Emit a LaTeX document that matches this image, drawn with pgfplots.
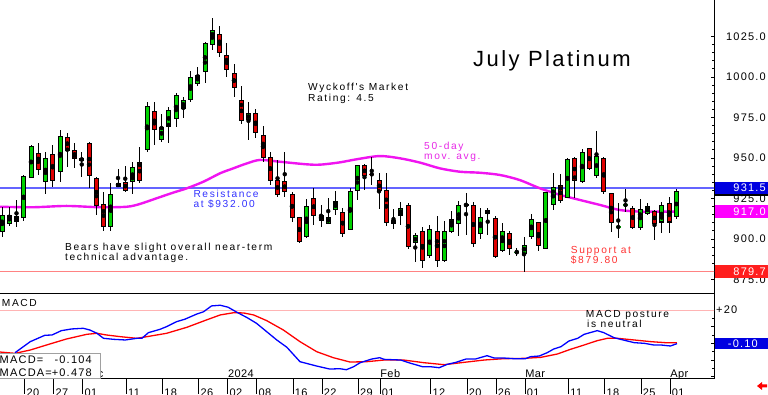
\documentclass[border=0pt]{standalone}
\usepackage{pgfplots}
\pgfplotsset{compat=1.18}
\usepackage{pgfplotstable}
\usepackage{fontspec}
\setmainfont{Liberation Sans}
\newfontfamily\annofam[LetterSpace=16, Ligatures=TeXOff]{Liberation Sans}
\newfontfamily\tickfam[LetterSpace=11]{Liberation Sans}
\newfontfamily\datefam[LetterSpace=4]{Liberation Sans}
\newfontfamily\titlefam[LetterSpace=11]{Liberation Sans}
\newcommand\annof{\annofam\fontsize{10.2}{12}\selectfont}
\newcommand\tickf{\tickfam\fontsize{11}{12}\selectfont}
\newcommand\datef{\datefam\fontsize{11}{12}\selectfont}
\definecolor{cgreen}{RGB}{0,210,0}
\definecolor{cred}{RGB}{222,0,0}
\definecolor{mavg}{RGB}{240,20,240}
\definecolor{mavgtxt}{RGB}{230,40,230}
\definecolor{reslinec}{RGB}{100,100,255}
\definecolor{restxt}{RGB}{50,50,255}
\definecolor{suplinec}{RGB}{255,130,130}
\definecolor{suptxt}{RGB}{255,50,50}
\definecolor{boxblue}{RGB}{0,0,225}
\definecolor{boxmag}{RGB}{255,0,255}
\definecolor{boxred}{RGB}{255,30,30}
\definecolor{macdblue}{RGB}{0,0,255}
\definecolor{macdred}{RGB}{255,0,0}
\definecolor{lvl}{RGB}{255,180,180}
\definecolor{boxgray}{RGB}{160,160,160}

\pgfplotstableread{
i o h l c
0 904.5 920.0 901.4 914.2
1 909.7 919.5 908.0 914.8
2 910.7 924.1 907.6 913.8
3 913.4 939.5 911.3 938.5
4 937.9 958.0 937.4 957.0
6 935.4 953.9 927.8 949.8
8 941.6 967.3 935.4 963.2
11 948.4 953.9 938.1 949.8
15 908.0 934.8 905.1 927.2
16 932.3 943.0 932.3 934.4
18 935.4 947.3 927.8 944.0
20 955.3 984.8 954.0 981.7
22 961.5 977.0 960.1 968.9
23 969.3 981.7 959.1 979.6
24 974.5 990.3 968.9 988.5
25 980.7 987.4 974.5 985.4
26 986.2 1003.7 984.8 999.6
27 996.1 1006.4 994.4 1001.2
28 1003.3 1021.8 996.1 1020.8
29 1019.8 1036.2 1016.7 1029.0
34 973.5 984.8 961.1 977.6
42 901.4 924.7 900.4 920.0
45 909.7 925.1 909.3 913.4
46 918.3 929.6 914.8 923.0
48 906.0 931.3 905.6 929.2
49 930.2 945.7 924.1 945.1
54 909.7 918.5 906.0 911.7
55 914.8 922.6 908.6 918.9
57 897.7 903.5 886.0 901.9
59 890.1 908.6 888.1 905.6
61 887.0 911.3 886.0 904.5
62 904.9 917.5 903.5 912.1
63 909.7 923.5 901.9 920.4
64 920.4 928.2 902.5 921.6
66 903.1 918.9 899.8 913.4
67 915.8 918.9 902.5 917.5
69 893.2 909.7 892.2 904.5
72 891.2 901.4 879.8 896.3
73 901.4 915.4 899.8 912.3
75 894.2 929.2 893.6 928.6
76 921.0 940.5 917.9 931.9
78 925.9 950.0 925.3 948.8
80 935.2 955.6 934.6 953.7
82 939.5 966.7 937.7 951.2
88 907.4 924.7 905.6 918.5
89 916.0 922.2 914.8 919.8
91 910.5 922.8 903.7 920.4
93 913.6 930.9 912.3 929.6
}\bull

\pgfplotstableread{
i o h l c
5 952.5 959.5 939.5 943.0
7 952.3 958.0 931.9 936.4
9 962.8 965.6 944.7 954.9
10 954.5 959.1 943.6 949.8
12 959.1 960.1 931.7 939.5
13 937.4 938.1 914.8 920.4
14 921.0 929.2 905.1 908.0
17 935.0 945.3 929.2 930.2
19 947.3 957.0 934.4 936.4
21 978.6 984.8 958.0 967.3
30 1026.3 1031.5 1012.1 1015.0
31 1013.0 1020.8 1000.2 1004.7
32 1001.9 1007.8 987.9 993.6
33 985.2 994.4 971.0 973.0
35 977.6 980.0 962.1 965.8
36 963.6 969.8 947.7 950.4
37 950.4 953.9 933.3 936.4
38 936.4 948.8 926.1 927.2
39 935.4 953.9 926.1 929.2
40 927.2 929.2 910.7 913.4
41 913.4 913.6 897.7 898.4
43 925.1 931.3 908.6 914.8
44 914.8 921.0 907.6 911.3
47 916.3 918.9 901.0 903.1
50 945.1 946.1 930.2 939.1
52 935.8 940.5 918.3 929.8
53 930.2 940.5 908.0 910.1
56 920.4 922.0 893.6 895.3
58 904.5 907.6 881.9 886.6
60 904.5 914.2 882.9 887.0
65 920.4 923.0 895.3 897.3
68 912.8 914.2 888.1 889.5
70 903.1 905.1 890.1 894.2
74 910.1 910.7 892.8 895.7
77 933.3 940.1 922.4 923.7
79 950.0 950.6 925.3 936.4
81 955.6 956.2 942.6 943.8
83 950.0 950.6 927.8 929.6
84 928.2 928.6 904.5 910.1
87 919.1 920.4 906.2 907.4
90 916.7 917.9 899.4 909.3
92 922.2 925.9 903.7 910.5
}\bear

\pgfplotstableread{
i y h l
71 891.8 894.5 889.5
85 907.4 922.2 900.6
86 921.0 930.9 916.7
}\gdoji

\pgfplotstableread{
i y h l
51 939.9 950.8 933.3
}\rdoji

\pgfplotsset{
  wick/.style={only marks, mark=none, forget plot,
    error bars/.cd, y dir=both, y explicit, error mark=none,
    error bar style={line width=1pt, black}},
  bodyline/.style={only marks, mark=none, forget plot,
    error bars/.cd, y dir=both, y explicit, error mark=none,
    error bar style={line width=5pt, black}},
  bodyfill/.style={only marks, mark=none, forget plot,
    error bars/.cd, y dir=both, y explicit, error mark=none,
    error bar style={line width=3pt, #1}},
}

\begin{document}
\begin{tikzpicture}
\useasboundingbox (0pt,0pt) rectangle (768pt,395pt);
\clip (0pt,0pt) rectangle (768pt,395pt);

% ---------------- price panel ----------------
\begin{axis}[
  at={(0pt,101pt)}, anchor=south west, scale only axis,
  width=714pt, height=294pt,
  xmin=-0.2759, xmax=98.207, ymin=866.05, ymax=1047.53,
  axis x line=none, axis y line*=right,
  axis line style={black, line width=1pt},
  xtick=\empty,
  ytick={875,900,...,1025}, minor y tick num=4,
  ytick align=inside, major tick length=3pt, minor tick length=2pt,
  tick style={black, line width=0.8pt},
  yticklabel style={anchor=east, inner sep=0pt, xshift=52pt, font=\tickf},
  /pgf/number format/fixed, /pgf/number format/fixed zerofill,
  /pgf/number format/precision=1, /pgf/number format/1000 sep={},
  /pgf/number format/assume math mode=true,
]
\addplot[reslinec, line width=1.1pt, forget plot] coordinates {(-1,931.5) (99,931.5)};
\addplot[suplinec, line width=1pt, forget plot] coordinates {(-1,879.8) (99,879.8)};
\addplot[mavg, line width=2.4pt, smooth, forget plot] coordinates {
(-0.3,919.9) (4.3,919.6) (8.9,920.4) (13.5,919.6) (17.2,919.9) (19,921.6)
(21.3,925.1) (23.6,928.6) (25.5,931.3) (27.8,935.4) (30.1,940.6) (31.9,943.6)
(33.8,946.7) (35.6,948.8) (38.3,947.7) (42,946.1) (43.9,945.9) (46.6,947.3)
(48.9,949.2) (52.1,951.2) (54.9,949.8) (57.7,947.1) (60.4,943.6) (63.2,941.5)
(65.9,940.9) (68.7,939.5) (71.4,936.4) (74.2,931.3) (77,927.2) (79.7,924.1)
(82.5,921) (85.2,917.9) (88,916.9) (90.8,916.9) (93.1,916.9)};
% wicks
\addplot[wick] table[x=i, y expr={(\thisrow{h}+\thisrow{l})/2}, y error expr={(\thisrow{h}-\thisrow{l})/2}] {\bull};
\addplot[wick] table[x=i, y expr={(\thisrow{h}+\thisrow{l})/2}, y error expr={(\thisrow{h}-\thisrow{l})/2}] {\bear};
\addplot[wick] table[x=i, y expr={(\thisrow{h}+\thisrow{l})/2}, y error expr={(\thisrow{h}-\thisrow{l})/2}] {\gdoji};
\addplot[wick] table[x=i, y expr={(\thisrow{h}+\thisrow{l})/2}, y error expr={(\thisrow{h}-\thisrow{l})/2}] {\rdoji};
% bodies
\addplot[bodyline] table[x=i, y expr={(\thisrow{o}+\thisrow{c})/2}, y error expr={abs(\thisrow{c}-\thisrow{o})/2+0.31}] {\bull};
\addplot[bodyline] table[x=i, y expr={(\thisrow{o}+\thisrow{c})/2}, y error expr={abs(\thisrow{c}-\thisrow{o})/2+0.31}] {\bear};
\addplot[bodyfill=cgreen] table[x=i, y expr={(\thisrow{o}+\thisrow{c})/2}, y error expr={max(abs(\thisrow{c}-\thisrow{o})/2-0.31,0.2)}] {\bull};
\addplot[bodyfill=cred] table[x=i, y expr={(\thisrow{o}+\thisrow{c})/2}, y error expr={max(abs(\thisrow{c}-\thisrow{o})/2-0.31,0.2)}] {\bear};
% dojis
\addplot[only marks, mark=none, forget plot, error bars/.cd, y dir=both, y explicit, error mark=none, error bar style={line width=5pt, cgreen}] table[x=i, y=y, y error expr={0.45}] {\gdoji};
\addplot[only marks, mark=none, forget plot, error bars/.cd, y dir=both, y explicit, error mark=none, error bar style={line width=5pt, cred}] table[x=i, y=y, y error expr={0.45}] {\rdoji};
\coordinate (pb1) at (axis cs:98.207,931.5);
\coordinate (pb2) at (axis cs:98.207,917.0);
\coordinate (pb3) at (axis cs:98.207,879.7);
\end{axis}

% ---------------- MACD panel ----------------
\begin{axis}[
  at={(0pt,16pt)}, anchor=south west, scale only axis,
  width=714pt, height=85pt,
  xmin=-0.2759, xmax=98.207, ymin=-21.26, ymax=29.64,
  axis x line*=box, axis y line*=right,
  axis line style={black, line width=1pt},
  xtick pos=left,
  xtick={3.15,7.15,11.15,17.15,22.15,27.15,31.15,35.15,40.15,44.15,49.15,52.15,59.15,64.15,68.15,72.15,78.15,83.15,88.15,92.15},
  xticklabels={20,27,01,11,18,26,02,08,16,22,29,01,12,20,26,01,11,18,25,01},
  xtick align=outside,
  xtick style={/pgfplots/major tick length=15pt, black, line width=0.8pt},
  xticklabel style={anchor=north west, inner sep=0pt, xshift=1.5pt, yshift=-5pt, font=\datef},
  ytick={-20,-10,0,10,20}, yticklabels={,,,,+20},
  minor y tick num=1,
  ytick align=inside,
  ytick style={/pgfplots/major tick length=3pt, /pgfplots/minor tick length=2pt, black, line width=0.8pt},
  yticklabel style={anchor=west, inner sep=0pt, xshift=2pt, font=\tickf},
]
\addplot[lvl, line width=1pt, forget plot] coordinates {(-1,20) (99,20)};
\addplot[macdred, line width=1.3pt, forget plot] coordinates {
(-0.3,-5.1) (1.8,-5.9) (3.9,-3.9) (6.6,-0.3) (8.9,2.7) (11.7,5.5) (13.1,6.1)
(14.4,5.1) (16.3,4.1) (18.6,3.1) (20,4.1) (22.7,6.1) (25.5,9.7) (28.2,14.1)
(30.1,17.1) (31.9,18.4) (33.3,18.3) (34.7,17.1) (36.5,13.7) (38.8,8.1)
(41.1,1.1) (43.4,-4.9) (45.7,-8.5) (48,-11.1) (50.3,-10.9) (52.7,-9.9)
(55.4,-9.9) (58.2,-11.5) (61,-12.7) (63.7,-11.3) (66.5,-9.9) (69.2,-9.1)
(72,-8.9) (74.3,-8.3) (76.6,-6.3) (78.4,-3.5) (80.3,-0.9) (82.1,1.7)
(83.5,3.1) (84.9,3.1) (87.2,2.1) (89.5,1.1) (91.8,0.4) (93.1,0.5)};
\addplot[macdblue, line width=1.3pt, forget plot] coordinates {
(1.8,-5.5) (3.9,1.1) (5.9,4.9) (6.9,5.1) (8.2,7.7) (9.6,8.7) (11.2,9.1)
(12.1,8.1) (13.1,6.1) (14,3.1) (15.4,2.5) (17,2.1) (18.6,3.1) (19.3,3.1)
(20.2,6.5) (21.8,8.5) (22.7,10.1) (24.1,13.1) (25.2,14.5) (26.9,17.7)
(27.8,19) (28.9,22.5) (30.1,22.9) (31.2,21.7) (32.4,18.7) (33.8,15.5)
(35.1,12.1) (36.5,7.1) (37.9,2.1) (39.3,-2.3) (41.1,-10.9) (43.4,-13.5)
(45.2,-15.3) (46.6,-15.1) (47.5,-15.7) (48.5,-13.9) (49.4,-11.5) (51,-9.3)
(52.1,-8.5) (52.7,-9.5) (55,-9.9) (56.1,-11.5) (58,-13.9) (59.1,-13.9)
(60.3,-14.5) (61.4,-12.5) (62.6,-11.3) (64,-9.3) (65.3,-9.3) (66.9,-7.3)
(67.9,-8.7) (69.2,-8.7) (70.6,-9.1) (72.2,-9.1) (72.9,-7.9) (74.1,-7.5)
(75.2,-5.5) (76.1,-3.3) (77.1,-1.9) (78.2,1.5) (79.4,3.1) (80.3,5.5)
(82.1,7.7) (83,6.5) (84.4,3.5) (85.3,2.5) (87.2,0.5) (88.6,0.1) (89.9,-0.9)
(90.9,-0.9) (92.2,-1.5) (93.1,-0.1)};
\node[anchor=base west, inner sep=0pt, font=\datef] at (axis cs:11.15,-21.26) [yshift=1pt] {Dec};
\node[anchor=base west, inner sep=0pt, font=\datef] at (axis cs:31.15,-21.26) [yshift=1pt] {2024};
\node[anchor=base west, inner sep=0pt, font=\datef] at (axis cs:52.15,-21.26) [yshift=1pt] {Feb};
\node[anchor=base west, inner sep=0pt, font=\datef] at (axis cs:72.15,-21.26) [yshift=1pt] {Mar};
\node[anchor=base west, inner sep=0pt, font=\datef] at (axis cs:92.15,-21.26) [yshift=1pt] {Apr};
\coordinate (mb1) at (axis cs:98.207,-0.1);
\end{axis}

% ---------------- value boxes on the right ----------------
\node[fill=boxblue, anchor=west, minimum width=60pt, minimum height=12pt, inner sep=0pt] at ([xshift=0.8pt]pb1) {};
\draw[black, line width=1.5pt] ([xshift=0.8pt,yshift=-6.8pt]pb1) -- ++(60pt,0);
\node[anchor=east, inner sep=0pt, text=white, font=\tickf] at ([xshift=52pt]pb1) {931.5};
\node[fill=boxmag, anchor=west, minimum width=60pt, minimum height=12.5pt, inner sep=0pt] at ([xshift=0.8pt]pb2) {};
\node[anchor=east, inner sep=0pt, text=white, font=\tickf] at ([xshift=52pt]pb2) {917.0};
\node[fill=boxred, anchor=west, minimum width=60pt, minimum height=13pt, inner sep=0pt] at ([xshift=0.8pt]pb3) {};
\node[anchor=east, inner sep=0pt, text=white, font=\tickf] at ([xshift=52pt]pb3) {879.7};
\node[fill=boxblue, anchor=west, minimum width=60pt, minimum height=11.5pt, inner sep=0pt] at ([xshift=0.8pt]mb1) {};
\node[anchor=east, inner sep=0pt, text=white, font=\tickf] at ([xshift=44pt]mb1) {-0.10};

% ---------------- annotations ----------------
\node[anchor=base west, inner sep=0pt, font={\titlefam\fontsize{22}{24}\selectfont}] at (473pt,328pt) {July Platinum};
\node[anchor=base west, inner sep=0pt, font=\annof] at (308pt,304.3pt) {Wyckoff's Market};
\node[anchor=base west, inner sep=0pt, font=\annof] at (308pt,293.7pt) {Rating: 4.5};
\node[anchor=base west, inner sep=0pt, font=\annof, text=mavgtxt] at (424pt,245.5pt) {50-day};
\node[anchor=base west, inner sep=0pt, font=\annof, text=mavgtxt] at (424pt,235.5pt) {mov. avg.};
\node[anchor=base west, inner sep=0pt, font=\annof, text=restxt] at (193.3pt,197pt) {Resistance};
\node[anchor=base west, inner sep=0pt, font=\annof, text=restxt] at (193.3pt,187pt) {at \$932.00};
\node[anchor=base west, inner sep=0pt, font=\annof] at (65pt,144.3pt) {Bears have slight overall near-term};
\node[anchor=base west, inner sep=0pt, font=\annof] at (65pt,134pt) {technical advantage.};
\node[anchor=base west, inner sep=0pt, font=\annof, text=suptxt] at (570.7pt,141pt) {Support at};
\node[anchor=base west, inner sep=0pt, font=\annof, text=suptxt] at (570.7pt,131pt) {\$879.80};
\node[anchor=base west, inner sep=0pt, font=\annof] at (1.7pt,88.3pt) {MACD};
\node[anchor=base west, inner sep=0pt, font=\annof] at (585.7pt,77.7pt) {MACD posture};
\node[anchor=base west, inner sep=0pt, font=\annof] at (587pt,67.7pt) {is neutral};

% MACD readout box
\draw[draw=boxgray, fill=white, line width=1pt] (-1pt,16pt) rectangle (100pt,41pt);
\node[anchor=base west, inner sep=0pt, font=\tickf] at (-0.5pt,31pt) {MACD=};
\node[anchor=base east, inner sep=0pt, font=\tickf] at (92pt,31pt) {-0.104};
\node[anchor=base west, inner sep=0pt, font=\tickf] at (-0.5pt,18pt) {MACDA=};
\node[anchor=base east, inner sep=0pt, font=\tickf] at (92pt,18pt) {+0.478};

% small red arrow bottom right
\fill[red] (757pt,9pt) -- (762pt,13pt) -- (762pt,10.5pt) -- (767pt,10.5pt) -- (767pt,7.5pt) -- (762pt,7.5pt) -- (762pt,5pt) -- cycle;
\end{tikzpicture}
\end{document}
